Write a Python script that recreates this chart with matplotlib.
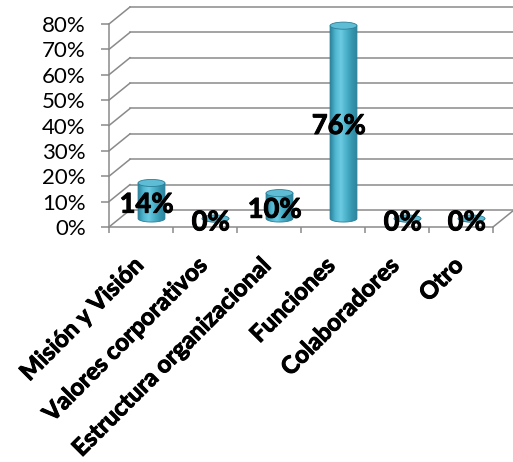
import matplotlib
matplotlib.use('Agg')
import matplotlib.pyplot as plt
import matplotlib.transforms as mtransforms
import matplotlib.patheffects as pe
from matplotlib import font_manager as fm
import numpy as np
from matplotlib.patches import PathPatch, Ellipse
from matplotlib.path import Path
from matplotlib.colors import LinearSegmentedColormap

categories = ['Misión y Visión', 'Valores corporativos', 'Estructura organizacional',
              'Funciones', 'Colaboradores', 'Otro']
values = [14, 0, 10, 76, 0, 0]
value_labels = ['14%', '0%', '10%', '76%', '0%', '0%']
yticks = [0, 10, 20, 30, 40, 50, 60, 70, 80]
ytick_labels = ['0%', '10%', '20%', '30%', '40%', '50%', '60%', '70%', '80%']


def bold_family():
    for fam in ['Lato', 'Open Sans', 'Noto Sans', 'DejaVu Sans']:
        try:
            f = fm.findfont(fm.FontProperties(family=fam, weight='bold'), fallback_to_default=False)
            if 'bold' in f.lower() or 'black' in f.lower() or 'heavy' in f.lower():
                return fam
        except Exception:
            pass
    return 'DejaVu Sans'


BFAM = bold_family()
BW = 'bold'
thick = [pe.withStroke(linewidth=0.7, foreground='black')]

W, H = 513, 462
fig = plt.figure(figsize=(W / 100, H / 100), dpi=100)
ax = fig.add_axes([109 / W, 235 / H, 384 / W, 203 / H])
n = len(categories)
ax.set_xlim(0, n)
ax.set_ylim(0, 80)

DX = 21 / 64          # depth offset in category units
DY = 17 * 80 / 203    # depth offset in percent units
grid = '#8a8a8a'
lw = 1.1

for v in yticks:
    ax.plot([0, DX], [v, v + DY], color=grid, lw=lw, clip_on=False, zorder=1)
    ax.plot([DX, n + DX], [v + DY, v + DY], color=grid, lw=lw, clip_on=False, zorder=1)
ax.plot([n, n + DX], [0, DY], color=grid, lw=lw, clip_on=False, zorder=1)

for s in ['top', 'right']:
    ax.spines[s].set_visible(False)
for s in ['left', 'bottom']:
    ax.spines[s].set_color(grid)
    ax.spines[s].set_linewidth(lw)

ax.set_yticks(yticks)
ax.set_yticklabels(ytick_labels, fontsize=16, family='Lato')
ax.tick_params(axis='y', length=5.8, width=lw, color=grid, pad=11)

centers = np.arange(n) + 0.5
ax.set_xticks(np.arange(n + 1), minor=True)
ax.set_xticks(centers)
ax.set_xticklabels(categories, rotation=45, ha='right', va='top', rotation_mode='anchor',
                   fontsize=16, fontweight=BW, family=BFAM)
ax.tick_params(axis='x', which='major', length=0, pad=19)
ax.tick_params(axis='x', which='minor', length=4.5, width=lw, color=grid)
ax.set_facecolor('none')

# fit x-label size to the reference's label extent
fig.canvas.draw()
r = fig.canvas.get_renderer()
xl = ax.get_xticklabels()
wpx = xl[0].get_window_extent(r).width
fs = 16 * 132 / wpx
shift = mtransforms.ScaledTranslation(-10 / 100, 0, fig.dpi_scale_trans)
for lab in xl:
    lab.set_fontsize(fs)
    lab.set_path_effects(thick)
    lab.set_transform(lab.get_transform() + shift)

cmap = LinearSegmentedColormap.from_list('cyl', ['#2A8099', '#4FB6D0', '#6CCBE2', '#4DB2CC', '#3797B0', '#2C849C'])
w = 0.42
eh = 2.8
a, b = w / 2, eh / 2
base = DY / 2
texts = []
for i, v in enumerate(values):
    cx = i + 0.5 + DX / 2
    t = np.linspace(np.pi, 2 * np.pi, 60)
    xs = list(cx + a * np.cos(t)) + [cx + a, cx - a]
    ys = list(base + b * np.sin(t)) + [base + v, base + v]
    verts = list(zip(xs, ys)) + [(xs[0], ys[0])]
    codes = [Path.MOVETO] + [Path.LINETO] * (len(verts) - 2) + [Path.CLOSEPOLY]
    body = PathPatch(Path(verts, codes), facecolor='none', edgecolor='#2A7F96', lw=0.6, zorder=3)
    ax.add_patch(body)
    body.set_clip_on(False)
    grad = np.linspace(0, 1, 256).reshape(1, -1)
    im = ax.imshow(grad, extent=[cx - a, cx + a, base - b, base + v + b], aspect='auto',
                   cmap=cmap, zorder=2.5, interpolation='bilinear')
    im.set_clip_path(body)
    top = Ellipse((cx, base + v), w, eh, facecolor='#5EBCD5', edgecolor='#2A7F96', lw=0.6,
                  zorder=3.5, clip_on=False)
    ax.add_patch(top)
    tx = ax.text(i + 0.5 + DX * 0.27, v / 2 + DY * 0.27, value_labels[i], ha='center', va='center',
                 fontsize=20, fontweight=BW, family=BFAM, color='black', zorder=5, clip_on=False,
                 path_effects=thick)
    texts.append(tx)

# fit data-label size so that "76%" is ~54 px wide
fig.canvas.draw()
wl = texts[3].get_window_extent(r).width
for tx in texts:
    tx.set_fontsize(20 * 54 / wl)

ax.set_xlim(0, n)
ax.set_ylim(0, 80)
fig.savefig('out.png', dpi=100)
